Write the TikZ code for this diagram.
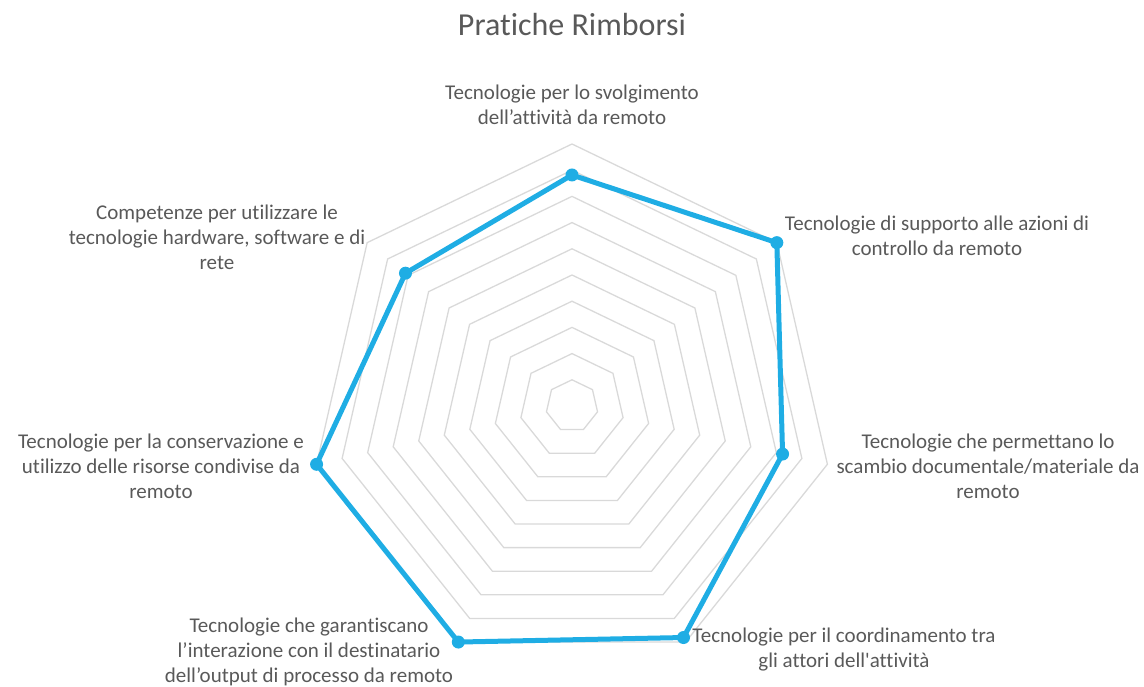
\documentclass[tikz,border=0pt]{standalone}
\usepackage{fontspec}
\setmainfont{Carlito}[Ligatures={TeX,NoCommon}]
\usetikzlibrary{calc}
\definecolor{serie}{HTML}{1FADE4}
\definecolor{griglia}{HTML}{D9D9D9}
\definecolor{testo}{HTML}{595959}
\tikzstyle{ring}=[draw=griglia, line width=1.3pt]
\tikzstyle{serieline}=[draw=serie, line width=5pt, line join=round]
\tikzstyle{marker}=[circle, fill=serie, minimum size=13pt, inner sep=0pt]
\tikzstyle{annot}=[align=center, text=testo, inner sep=0pt, font=\fontsize{21}{25}\selectfont]
\tikzstyle{titolo}=[text=testo, inner sep=0pt, font=\fontsize{32}{36}\selectfont]

\begin{document}
\begin{tikzpicture}[x=1pt,y=1pt]
	\useasboundingbox (-572,-281) rectangle (572,406);

	% griglia a 10 anelli
	\foreach \r in {1,...,10}
		\draw[ring] (90:26.2*\r) \foreach \k in {1,...,6}{ -- ({90-\k*360/7}:26.2*\r)} -- cycle;

	\coordinate (d0) at (90:231);
	\coordinate (d1) at ({90-1*360/7}:262);
	\coordinate (d2) at ({90-2*360/7}:216);
	\coordinate (d3) at ({90-3*360/7}:257);
	\coordinate (d4) at ({90-4*360/7}:262);
	\coordinate (d5) at ({90-5*360/7}:262);
	\coordinate (d6) at ({90-6*360/7}:213);

	\draw[serieline] (d0) -- (d1) -- (d2) -- (d3) -- (d4) -- (d5) -- (d6) -- cycle;
	\foreach \i in {0,...,6}
		\node[marker] (m\i) at (d\i) {};

	\node[titolo] (titolo) at (0,381) {Pratiche Rimborsi};

	\node[annot] (asse0) at (0,301) {Tecnologie per lo svolgimento\\dell’attività da remoto};
	\node[annot] (asse1) at (365,170) {Tecnologie di supporto alle azioni di\\controllo da remoto};
	\node[annot] (asse2) at (416,-60) {Tecnologie che permettano lo\\scambio documentale/materiale da\\remoto};
	\node[annot] (asse3) at (272,-244) {Tecnologie per il coordinamento tra\\gli attori dell\textquotesingle attività};
	\node[annot] (asse4) at (-263,-246) {Tecnologie che garantiscano\\l’interazione con il destinatario\\dell’output di processo da remoto};
	\node[annot] (asse5) at (-411,-60) {Tecnologie per la conservazione e\\utilizzo delle risorse condivise da\\remoto};
	\node[annot] (asse6) at (-355,169) {Competenze per utilizzare le\\tecnologie hardware, software e di\\rete};
\end{tikzpicture}
\end{document}
